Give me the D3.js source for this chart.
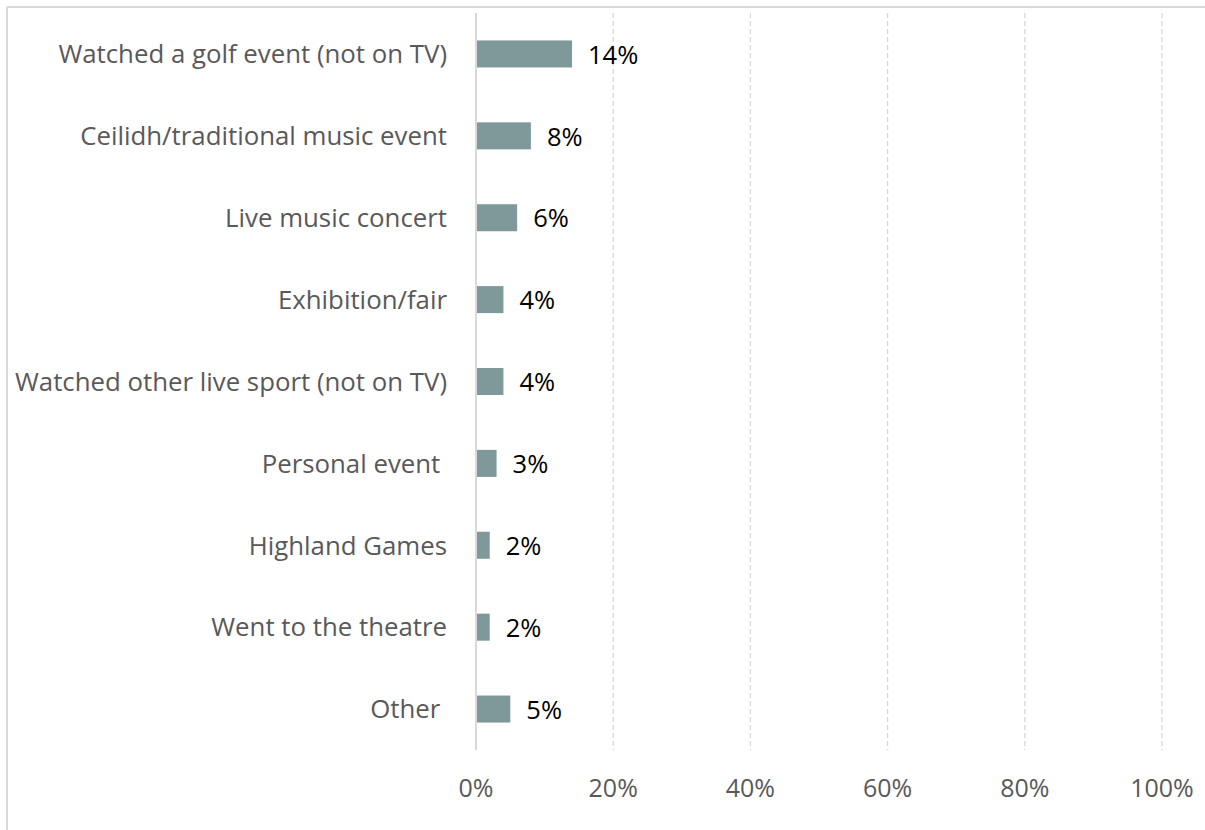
<!DOCTYPE html>
<html><head><meta charset="utf-8">
<script src="https://cdn.jsdelivr.net/npm/d3@7"></script>
<style>
html,body{margin:0;padding:0;background:#fff;}
svg{display:block;}
text{white-space:pre;}
</style></head>
<body>
<script>
const categories = [
  "Watched a golf event (not on TV)",
  "Ceilidh/traditional music event",
  "Live music concert",
  "Exhibition/fair",
  "Watched other live sport (not on TV)",
  "Personal event ",
  "Highland Games",
  "Went to the theatre",
  "Other "
];
const values = [14, 8, 6, 4, 4, 3, 2, 2, 5];
const tickValues = [0, 20, 40, 60, 80, 100];
const tickLabels = ["0%", "20%", "40%", "60%", "80%", "100%"];

const W = 1205, H = 830;
const svg = d3.select("body").append("svg").attr("width", W).attr("height", H);

// outer chart border (partially visible)
svg.append("line").attr("x1", 7).attr("x2", W).attr("y1", 7).attr("y2", 7)
  .attr("stroke", "#d9d9d9").attr("stroke-width", 2);
svg.append("line").attr("x1", 7).attr("x2", 7).attr("y1", 7).attr("y2", H)
  .attr("stroke", "#d9d9d9").attr("stroke-width", 2);

const x = d3.scaleLinear().domain([0, 100]).range([476, 1162]);
const y = d3.scaleBand().domain(categories).range([13, 750]).paddingInner(0.67).paddingOuter(0.335);

const FONT = "'Open Sans', 'Liberation Sans', sans-serif";

// gridlines
svg.append("g").selectAll("line").data(tickValues.filter(d => d > 0)).join("line")
  .attr("x1", d => x(d)).attr("x2", d => x(d))
  .attr("y1", 13).attr("y2", 750)
  .attr("stroke", "#d9d9d9").attr("stroke-width", 1.3)
  .attr("stroke-dasharray", "5,3");

// tick labels
svg.append("g").selectAll("text").data(tickValues).join("text")
  .attr("x", d => x(d)).attr("y", 797)
  .attr("text-anchor", "middle")
  .attr("font-family", FONT).attr("font-size", 25).attr("fill", "#595959")
  .text((d, i) => tickLabels[i]);

// bars
svg.append("g").selectAll("rect").data(values).join("rect")
  .attr("x", x(0))
  .attr("y", (d, i) => y(categories[i]))
  .attr("width", d => x(d) - x(0))
  .attr("height", y.bandwidth())
  .attr("fill", "#7f999b");

// axis line at 0
svg.append("line").attr("x1", x(0)).attr("x2", x(0)).attr("y1", 13).attr("y2", 750)
  .attr("stroke", "#d9d9d9").attr("stroke-width", 2);

// category labels
svg.append("g").selectAll("text").data(categories).join("text")
  .attr("x", 447)
  .attr("y", d => y(d) + y.bandwidth() / 2)
  .attr("dy", "0.36em")
  .attr("text-anchor", "end")
  .attr("font-family", FONT).attr("font-size", 25.8).attr("fill", "#595959")
  .text(d => d);

// value labels
svg.append("g").selectAll("text").data(values).join("text")
  .attr("x", d => x(d) + 16)
  .attr("y", (d, i) => y(categories[i]) + y.bandwidth() / 2)
  .attr("dy", "0.38em")
  .attr("font-family", FONT).attr("font-size", 25.5).attr("fill", "#000")
  .text(d => d + "%");
</script>
</body></html>
